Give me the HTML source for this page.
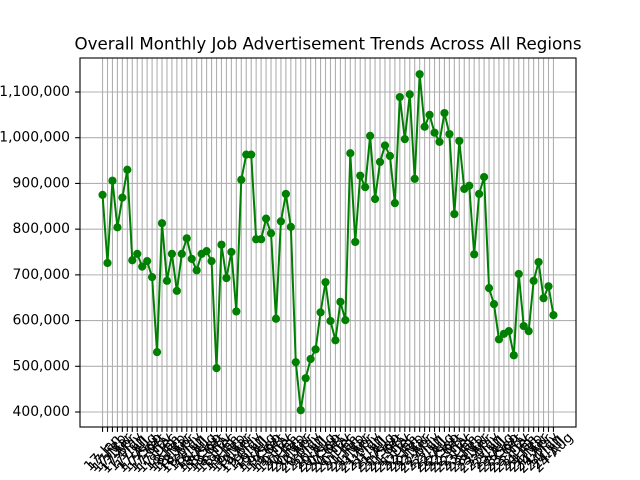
<!DOCTYPE html>
<html><head><meta charset="utf-8"><style>
body{margin:0;background:#fff;}
svg{display:block;font-family:"DejaVu Sans","Liberation Sans",sans-serif;}
</style></head><body>
<svg id="chart" width="640" height="480" viewBox="0 0 640 480">
<rect width="640" height="480" fill="#fff"/>
<text x="328" y="49.5" text-anchor="middle" font-size="16.7" fill="#000">Overall Monthly Job Advertisement Trends Across All Regions</text>
<g id="grid"></g>
<g id="series"></g>
<g id="axes"></g>
</svg>
<script>
const years = ["17","18","19","20","21","22","23","24"];
const months = ["Jan","Feb","Mar","Apr","May","Jun","Jul","Aug","Sep","Oct","Nov","Dec"];
const values = [875000,726000,906000,804000,869000,930000,732000,746000,718000,730000,695000,531000,
813000,687000,746000,665000,746000,780000,735000,710000,746000,752000,730000,496000,
766000,693000,750000,620000,908000,963000,963000,778000,778000,823000,791000,604000,
817000,877000,805000,509000,404000,474000,516000,537000,618000,684000,599000,557000,
641000,601000,966000,772000,917000,892000,1004000,866000,947000,983000,960000,857000,
1089000,997000,1095000,910000,1139000,1024000,1050000,1011000,991000,1054000,1008000,833000,
993000,888000,895000,745000,877000,914000,671000,636000,559000,571000,577000,524000,
702000,588000,577000,687000,728000,649000,675000,612000];
const yTicks = [400000,500000,600000,700000,800000,900000,1000000,1100000];
const yTickLabels = ["400,000","500,000","600,000","700,000","800,000","900,000","1,000,000","1,100,000"];
const categories = [];
for (const y of years) for (const m of months) categories.push(y + "-" + m);
categories.length = values.length;

const L=80,R=576,T=58,B=427;
const n = values.length;
const pad = (n-1)*0.05;
const xs = i => L + (i + pad) / ((n-1) + 2*pad) * (R-L);
const yMin = 367200, yMax = 1174400;
const ys = v => B - (v - yMin) / (yMax - yMin) * (B-T);
const NS = "http://www.w3.org/2000/svg";
function mk(tag, attrs, parent){const e=document.createElementNS(NS,tag);for(const k in attrs)e.setAttribute(k,attrs[k]);parent.appendChild(e);return e;}
const grid=document.getElementById('grid'), series=document.getElementById('series'), axes=document.getElementById('axes');

categories.forEach((c,i)=>{
  const x=xs(i);
  const g=mk('line',{x1:x,x2:x,y1:T,y2:B,stroke:'#b0b0b0','stroke-width':1.1},grid);
  
  
  const t=mk('line',{x1:x,x2:x,y1:B,y2:B+4.9,stroke:'#000','stroke-width':1.1},axes);
  
  
  const lb=mk('text',{x:0,y:0,'text-anchor':'middle','dominant-baseline':'central','font-size':13.9,fill:'#000',transform:`translate(${x},${453}) rotate(-45)`},axes);
  lb.textContent=c;
  
  
});
yTicks.forEach((v,i)=>{
  const y=ys(v);
  const g=mk('line',{x1:L,x2:R,y1:y,y2:y,stroke:'#b0b0b0','stroke-width':1.1},grid);
  
  
  const t=mk('line',{x1:L-4.9,x2:L,y1:y,y2:y,stroke:'#000','stroke-width':1.1},axes);
  
  
  const lb=mk('text',{x:L-10,y:y,'text-anchor':'end','dominant-baseline':'central','font-size':13.9,fill:'#000'},axes);
  lb.textContent=yTickLabels[i];
  
  
});
const frame=mk('rect',{x:L,y:T,width:R-L,height:B-T,fill:'none',stroke:'#000','stroke-width':1.1},axes);



const line=mk('polyline',{points:values.map((v,i)=>xs(i)+','+ys(v)).join(' '),fill:'none',stroke:'#008000','stroke-width':2,'stroke-linejoin':'round'},series);


values.forEach((v,i)=>{
  const p=mk('circle',{cx:xs(i),cy:ys(v),r:4.1,fill:'#008000'},series);
  
  
});
</script>
</body></html>
